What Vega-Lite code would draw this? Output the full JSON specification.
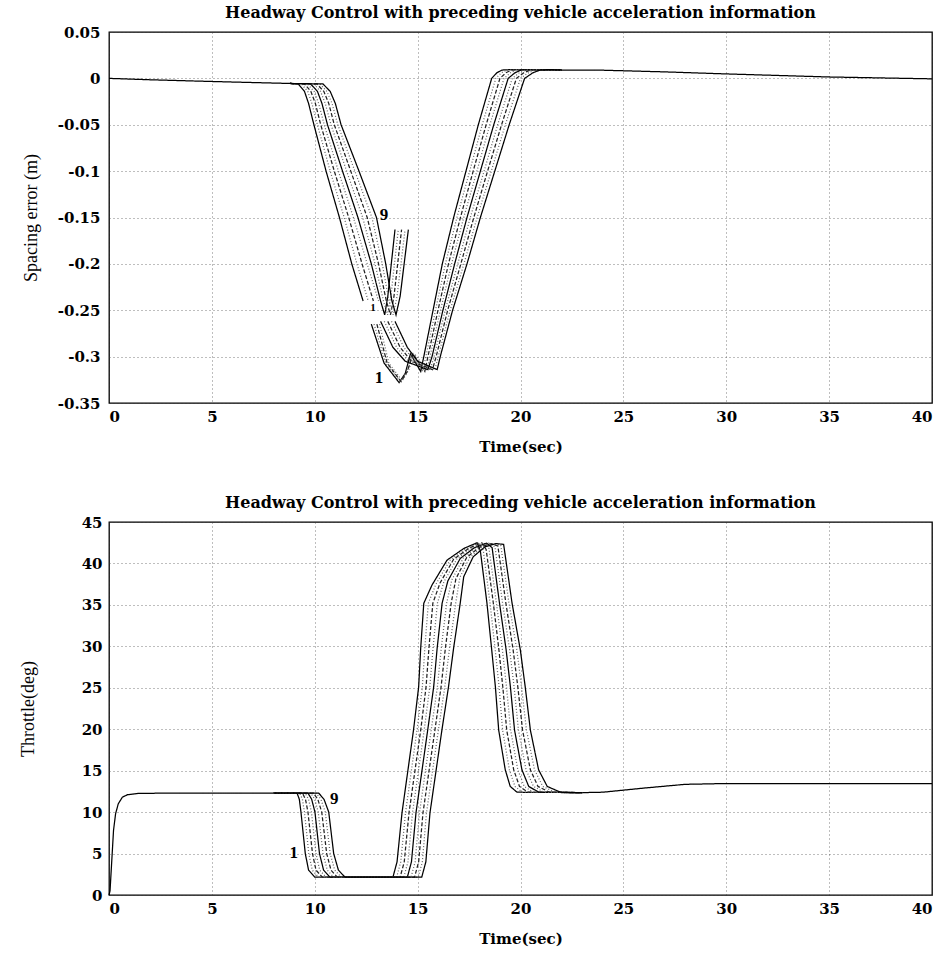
{
"$schema": "https://vega.github.io/schema/vega-lite/v6.json",
"padding": {"left": 18, "top": 4, "right": 6, "bottom": 2},
"background": "white",
"spacing": 39,
"config": {
  "locale": {"number": {"decimal": ".", "thousands": ",", "grouping": [3], "currency": ["$", ""], "minus": "-"}},
  "view": {"stroke": "black", "strokeWidth": 1.3},
  "axis": {"labelFont": "DejaVu Serif", "labelFontWeight": "bold", "labelFontSize": 15, "labelColor": "black", "gridColor": "#333", "gridDash": [1, 3], "gridWidth": 0.8, "gridOpacity": 0.8, "domain": false, "ticks": false, "titleColor": "black"},
  "title": {"font": "DejaVu Serif", "fontWeight": "bold", "fontSize": 16, "color": "black", "offset": 4}
},
"datasets": {
"se": [
{"k":1,"s":"C0","t":0,"y":0},{"k":1,"s":"C0","t":2,"y":-0.0015},{"k":1,"s":"C0","t":4.4,"y":-0.003},{"k":1,"s":"C0","t":7,"y":-0.0045},{"k":1,"s":"C0","t":8.8,"y":-0.0055},
{"k":1,"s":"C1","t":22,"y":0.009},{"k":1,"s":"C1","t":24,"y":0.0088},{"k":1,"s":"C1","t":27,"y":0.007},{"k":1,"s":"C1","t":30,"y":0.0048},{"k":1,"s":"C1","t":35,"y":0.0015},{"k":1,"s":"C1","t":40,"y":-0.0005},

{"k":1,"s":"A","t":8.8,"y":-0.0055},{"k":1,"s":"A","t":9.2,"y":-0.006},{"k":1,"s":"A","t":9.5,"y":-0.014},{"k":1,"s":"A","t":9.7,"y":-0.027},{"k":1,"s":"A","t":9.96,"y":-0.05},{"k":1,"s":"A","t":10.55,"y":-0.1},{"k":1,"s":"A","t":11.2,"y":-0.15},{"k":1,"s":"A","t":11.8,"y":-0.2},{"k":1,"s":"A","t":12.35,"y":-0.24},
{"k":1,"s":"B","t":12.75,"y":-0.265},{"k":1,"s":"B","t":13.37,"y":-0.307},{"k":1,"s":"B","t":14.1,"y":-0.328},{"k":1,"s":"B","t":14.4,"y":-0.318},{"k":1,"s":"B","t":14.65,"y":-0.297},{"k":1,"s":"B","t":15.15,"y":-0.316},{"k":1,"s":"B","t":15.3,"y":-0.3},{"k":1,"s":"B","t":15.75,"y":-0.25},{"k":1,"s":"B","t":16.2,"y":-0.2},{"k":1,"s":"B","t":16.75,"y":-0.15},{"k":1,"s":"B","t":17.35,"y":-0.1},{"k":1,"s":"B","t":17.95,"y":-0.05},{"k":1,"s":"B","t":18.6,"y":0},{"k":1,"s":"B","t":18.85,"y":0.006},{"k":1,"s":"B","t":19.1,"y":0.009},{"k":1,"s":"B","t":19.6,"y":0.0095},{"k":1,"s":"B","t":22,"y":0.009},

{"k":2,"s":"A","t":8.8,"y":-0.0055},{"k":2,"s":"A","t":9.35,"y":-0.006},{"k":2,"s":"A","t":9.66,"y":-0.014},{"k":2,"s":"A","t":9.86,"y":-0.027},{"k":2,"s":"A","t":10.13,"y":-0.05},{"k":2,"s":"A","t":10.75,"y":-0.1},{"k":2,"s":"A","t":11.43,"y":-0.15},{"k":2,"s":"A","t":12.05,"y":-0.2},{"k":2,"s":"A","t":12.6,"y":-0.24},
{"k":2,"s":"B","t":12.88,"y":-0.265},{"k":2,"s":"B","t":13.45,"y":-0.307},{"k":2,"s":"B","t":14.15,"y":-0.327},{"k":2,"s":"B","t":14.45,"y":-0.317},{"k":2,"s":"B","t":14.72,"y":-0.297},{"k":2,"s":"B","t":15.25,"y":-0.316},{"k":2,"s":"B","t":15.4,"y":-0.3},{"k":2,"s":"B","t":15.87,"y":-0.25},{"k":2,"s":"B","t":16.35,"y":-0.2},{"k":2,"s":"B","t":16.91,"y":-0.15},{"k":2,"s":"B","t":17.53,"y":-0.1},{"k":2,"s":"B","t":18.14,"y":-0.05},{"k":2,"s":"B","t":18.8,"y":0},{"k":2,"s":"B","t":19.07,"y":0.006},{"k":2,"s":"B","t":19.33,"y":0.009},{"k":2,"s":"B","t":19.83,"y":0.0095},{"k":2,"s":"B","t":22,"y":0.009},

{"k":3,"s":"A","t":8.8,"y":-0.0055},{"k":3,"s":"A","t":9.5,"y":-0.006},{"k":3,"s":"A","t":9.81,"y":-0.014},{"k":3,"s":"A","t":10.03,"y":-0.027},{"k":3,"s":"A","t":10.29,"y":-0.05},{"k":3,"s":"A","t":10.95,"y":-0.1},{"k":3,"s":"A","t":11.65,"y":-0.15},{"k":3,"s":"A","t":12.3,"y":-0.2},{"k":3,"s":"A","t":12.85,"y":-0.24},
{"k":3,"s":"B","t":13.02,"y":-0.265},{"k":3,"s":"B","t":13.52,"y":-0.307},{"k":3,"s":"B","t":14.2,"y":-0.327},{"k":3,"s":"B","t":14.5,"y":-0.316},{"k":3,"s":"B","t":14.78,"y":-0.297},{"k":3,"s":"B","t":15.35,"y":-0.316},{"k":3,"s":"B","t":15.5,"y":-0.3},{"k":3,"s":"B","t":15.99,"y":-0.25},{"k":3,"s":"B","t":16.5,"y":-0.2},{"k":3,"s":"B","t":17.08,"y":-0.15},{"k":3,"s":"B","t":17.7,"y":-0.1},{"k":3,"s":"B","t":18.33,"y":-0.05},{"k":3,"s":"B","t":19,"y":0},{"k":3,"s":"B","t":19.29,"y":0.006},{"k":3,"s":"B","t":19.56,"y":0.009},{"k":3,"s":"B","t":20.05,"y":0.0095},{"k":3,"s":"B","t":22,"y":0.009},

{"k":4,"s":"A","t":8.8,"y":-0.0055},{"k":4,"s":"A","t":9.65,"y":-0.006},{"k":4,"s":"A","t":9.97,"y":-0.014},{"k":4,"s":"A","t":10.19,"y":-0.027},{"k":4,"s":"A","t":10.46,"y":-0.05},{"k":4,"s":"A","t":11.15,"y":-0.1},{"k":4,"s":"A","t":11.88,"y":-0.15},{"k":4,"s":"A","t":12.55,"y":-0.2},{"k":4,"s":"A","t":13.1,"y":-0.24},
{"k":4,"s":"B","t":13.15,"y":-0.265},{"k":4,"s":"B","t":13.6,"y":-0.307},{"k":4,"s":"B","t":14.25,"y":-0.326},{"k":4,"s":"B","t":14.55,"y":-0.315},{"k":4,"s":"B","t":14.85,"y":-0.297},{"k":4,"s":"B","t":15.45,"y":-0.315},{"k":4,"s":"B","t":15.6,"y":-0.3},{"k":4,"s":"B","t":16.11,"y":-0.25},{"k":4,"s":"B","t":16.65,"y":-0.2},{"k":4,"s":"B","t":17.24,"y":-0.15},{"k":4,"s":"B","t":17.88,"y":-0.1},{"k":4,"s":"B","t":18.51,"y":-0.05},{"k":4,"s":"B","t":19.2,"y":0},{"k":4,"s":"B","t":19.51,"y":0.006},{"k":4,"s":"B","t":19.79,"y":0.009},{"k":4,"s":"B","t":20.28,"y":0.0095},{"k":4,"s":"B","t":22,"y":0.009},

{"k":5,"s":"A","t":8.8,"y":-0.0055},{"k":5,"s":"A","t":9.8,"y":-0.006},{"k":5,"s":"A","t":10.13,"y":-0.014},{"k":5,"s":"A","t":10.35,"y":-0.027},{"k":5,"s":"A","t":10.62,"y":-0.05},{"k":5,"s":"A","t":11.35,"y":-0.1},{"k":5,"s":"A","t":12.1,"y":-0.15},{"k":5,"s":"A","t":12.75,"y":-0.2},{"k":5,"s":"A","t":13.2,"y":-0.24},{"k":5,"s":"A","t":13.4,"y":-0.255},{"k":5,"s":"A","t":13.55,"y":-0.235},{"k":5,"s":"A","t":13.9,"y":-0.163},
{"k":5,"s":"B","t":13.2,"y":-0.262},{"k":5,"s":"B","t":13.8,"y":-0.29},{"k":5,"s":"B","t":14.4,"y":-0.305},{"k":5,"s":"B","t":15.5,"y":-0.314},{"k":5,"s":"B","t":15.7,"y":-0.3},{"k":5,"s":"B","t":16.23,"y":-0.25},{"k":5,"s":"B","t":16.8,"y":-0.2},{"k":5,"s":"B","t":17.4,"y":-0.15},{"k":5,"s":"B","t":18.05,"y":-0.1},{"k":5,"s":"B","t":18.7,"y":-0.05},{"k":5,"s":"B","t":19.4,"y":0},{"k":5,"s":"B","t":19.73,"y":0.006},{"k":5,"s":"B","t":20.03,"y":0.009},{"k":5,"s":"B","t":20.5,"y":0.0095},{"k":5,"s":"B","t":22,"y":0.009},

{"k":6,"s":"A","t":8.8,"y":-0.0055},{"k":6,"s":"A","t":9.95,"y":-0.006},{"k":6,"s":"A","t":10.28,"y":-0.014},{"k":6,"s":"A","t":10.51,"y":-0.027},{"k":6,"s":"A","t":10.79,"y":-0.05},{"k":6,"s":"A","t":11.55,"y":-0.1},{"k":6,"s":"A","t":12.33,"y":-0.15},{"k":6,"s":"A","t":12.93,"y":-0.2},{"k":6,"s":"A","t":13.34,"y":-0.24},{"k":6,"s":"A","t":13.54,"y":-0.255},{"k":6,"s":"A","t":13.7,"y":-0.235},{"k":6,"s":"A","t":14.06,"y":-0.163},
{"k":6,"s":"B","t":13.38,"y":-0.262},{"k":6,"s":"B","t":13.98,"y":-0.29},{"k":6,"s":"B","t":14.55,"y":-0.305},{"k":6,"s":"B","t":15.61,"y":-0.314},{"k":6,"s":"B","t":15.8,"y":-0.3},{"k":6,"s":"B","t":16.34,"y":-0.25},{"k":6,"s":"B","t":16.95,"y":-0.2},{"k":6,"s":"B","t":17.56,"y":-0.15},{"k":6,"s":"B","t":18.23,"y":-0.1},{"k":6,"s":"B","t":18.89,"y":-0.05},{"k":6,"s":"B","t":19.6,"y":0},{"k":6,"s":"B","t":19.94,"y":0.006},{"k":6,"s":"B","t":20.26,"y":0.009},{"k":6,"s":"B","t":20.73,"y":0.0095},{"k":6,"s":"B","t":22,"y":0.009},

{"k":7,"s":"A","t":8.8,"y":-0.0055},{"k":7,"s":"A","t":10.1,"y":-0.006},{"k":7,"s":"A","t":10.44,"y":-0.014},{"k":7,"s":"A","t":10.68,"y":-0.027},{"k":7,"s":"A","t":10.95,"y":-0.05},{"k":7,"s":"A","t":11.75,"y":-0.1},{"k":7,"s":"A","t":12.55,"y":-0.15},{"k":7,"s":"A","t":13.1,"y":-0.2},{"k":7,"s":"A","t":13.48,"y":-0.24},{"k":7,"s":"A","t":13.68,"y":-0.255},{"k":7,"s":"A","t":13.85,"y":-0.235},{"k":7,"s":"A","t":14.22,"y":-0.163},
{"k":7,"s":"B","t":13.55,"y":-0.262},{"k":7,"s":"B","t":14.15,"y":-0.29},{"k":7,"s":"B","t":14.7,"y":-0.305},{"k":7,"s":"B","t":15.72,"y":-0.314},{"k":7,"s":"B","t":15.9,"y":-0.3},{"k":7,"s":"B","t":16.46,"y":-0.25},{"k":7,"s":"B","t":17.1,"y":-0.2},{"k":7,"s":"B","t":17.73,"y":-0.15},{"k":7,"s":"B","t":18.4,"y":-0.1},{"k":7,"s":"B","t":19.08,"y":-0.05},{"k":7,"s":"B","t":19.8,"y":0},{"k":7,"s":"B","t":20.16,"y":0.006},{"k":7,"s":"B","t":20.49,"y":0.009},{"k":7,"s":"B","t":20.95,"y":0.0095},{"k":7,"s":"B","t":22,"y":0.009},

{"k":8,"s":"A","t":8.8,"y":-0.0055},{"k":8,"s":"A","t":10.25,"y":-0.006},{"k":8,"s":"A","t":10.59,"y":-0.014},{"k":8,"s":"A","t":10.84,"y":-0.027},{"k":8,"s":"A","t":11.12,"y":-0.05},{"k":8,"s":"A","t":11.95,"y":-0.1},{"k":8,"s":"A","t":12.78,"y":-0.15},{"k":8,"s":"A","t":13.28,"y":-0.2},{"k":8,"s":"A","t":13.61,"y":-0.24},{"k":8,"s":"A","t":13.81,"y":-0.255},{"k":8,"s":"A","t":14,"y":-0.235},{"k":8,"s":"A","t":14.39,"y":-0.163},
{"k":8,"s":"B","t":13.73,"y":-0.262},{"k":8,"s":"B","t":14.33,"y":-0.29},{"k":8,"s":"B","t":14.85,"y":-0.305},{"k":8,"s":"B","t":15.84,"y":-0.314},{"k":8,"s":"B","t":16,"y":-0.3},{"k":8,"s":"B","t":16.58,"y":-0.25},{"k":8,"s":"B","t":17.25,"y":-0.2},{"k":8,"s":"B","t":17.89,"y":-0.15},{"k":8,"s":"B","t":18.58,"y":-0.1},{"k":8,"s":"B","t":19.26,"y":-0.05},{"k":8,"s":"B","t":20,"y":0},{"k":8,"s":"B","t":20.38,"y":0.006},{"k":8,"s":"B","t":20.72,"y":0.009},{"k":8,"s":"B","t":21.18,"y":0.0095},{"k":8,"s":"B","t":22,"y":0.009},

{"k":9,"s":"A","t":8.8,"y":-0.0055},{"k":9,"s":"A","t":10.4,"y":-0.006},{"k":9,"s":"A","t":10.75,"y":-0.014},{"k":9,"s":"A","t":11,"y":-0.027},{"k":9,"s":"A","t":11.28,"y":-0.05},{"k":9,"s":"A","t":12.15,"y":-0.1},{"k":9,"s":"A","t":13,"y":-0.15},{"k":9,"s":"A","t":13.45,"y":-0.2},{"k":9,"s":"A","t":13.75,"y":-0.24},{"k":9,"s":"A","t":13.95,"y":-0.255},{"k":9,"s":"A","t":14.15,"y":-0.235},{"k":9,"s":"A","t":14.55,"y":-0.163},
{"k":9,"s":"B","t":13.9,"y":-0.262},{"k":9,"s":"B","t":14.5,"y":-0.29},{"k":9,"s":"B","t":15,"y":-0.305},{"k":9,"s":"B","t":15.95,"y":-0.314},{"k":9,"s":"B","t":16.1,"y":-0.3},{"k":9,"s":"B","t":16.7,"y":-0.25},{"k":9,"s":"B","t":17.4,"y":-0.2},{"k":9,"s":"B","t":18.05,"y":-0.15},{"k":9,"s":"B","t":18.75,"y":-0.1},{"k":9,"s":"B","t":19.45,"y":-0.05},{"k":9,"s":"B","t":20.2,"y":0},{"k":9,"s":"B","t":20.6,"y":0.006},{"k":9,"s":"B","t":20.95,"y":0.009},{"k":9,"s":"B","t":21.4,"y":0.0095},{"k":9,"s":"B","t":22,"y":0.009}
],
"th": [
{"k":1,"s":"C0","t":0,"y":0},{"k":1,"s":"C0","t":0.05,"y":0.5},{"k":1,"s":"C0","t":0.22,"y":7.8},{"k":1,"s":"C0","t":0.32,"y":9.8},{"k":1,"s":"C0","t":0.45,"y":11},{"k":1,"s":"C0","t":0.65,"y":11.8},{"k":1,"s":"C0","t":0.9,"y":12.1},{"k":1,"s":"C0","t":1.4,"y":12.25},{"k":1,"s":"C0","t":3,"y":12.3},{"k":1,"s":"C0","t":8,"y":12.3},
{"k":1,"s":"C1","t":23,"y":12.35},{"k":1,"s":"C1","t":24,"y":12.4},{"k":1,"s":"C1","t":26,"y":12.9},{"k":1,"s":"C1","t":28,"y":13.35},{"k":1,"s":"C1","t":30,"y":13.45},{"k":1,"s":"C1","t":40,"y":13.45},

{"k":1,"s":"A","t":8,"y":12.3},{"k":1,"s":"A","t":9.14,"y":12.3},{"k":1,"s":"A","t":9.25,"y":11.55},{"k":1,"s":"A","t":9.33,"y":10},{"k":1,"s":"A","t":9.54,"y":5},{"k":1,"s":"A","t":9.7,"y":3},{"k":1,"s":"A","t":10,"y":2.15},{"k":1,"s":"A","t":13.8,"y":2.15},{"k":1,"s":"A","t":14,"y":4},{"k":1,"s":"A","t":14.24,"y":9.9},{"k":1,"s":"A","t":14.8,"y":19.9},{"k":1,"s":"A","t":15.05,"y":25.1},{"k":1,"s":"A","t":15.15,"y":29.8},{"k":1,"s":"A","t":15.3,"y":35.2},{"k":1,"s":"A","t":15.7,"y":37.4},{"k":1,"s":"A","t":16.43,"y":40.4},{"k":1,"s":"A","t":17.24,"y":41.8},{"k":1,"s":"A","t":17.89,"y":42.5},{"k":1,"s":"A","t":18.05,"y":41.5},{"k":1,"s":"A","t":18.37,"y":35.2},{"k":1,"s":"A","t":18.6,"y":29.6},{"k":1,"s":"A","t":18.78,"y":25.1},{"k":1,"s":"A","t":18.94,"y":19.9},{"k":1,"s":"A","t":19.26,"y":15.1},{"k":1,"s":"A","t":19.5,"y":13.1},{"k":1,"s":"A","t":19.83,"y":12.4},{"k":1,"s":"A","t":23,"y":12.35},

{"k":2,"s":"A","t":8,"y":12.3},{"k":2,"s":"A","t":9.27,"y":12.3},{"k":2,"s":"A","t":9.4,"y":11.55},{"k":2,"s":"A","t":9.5,"y":10},{"k":2,"s":"A","t":9.71,"y":5},{"k":2,"s":"A","t":9.88,"y":3},{"k":2,"s":"A","t":10.18,"y":2.15},{"k":2,"s":"A","t":13.98,"y":2.15},{"k":2,"s":"A","t":14.18,"y":4},{"k":2,"s":"A","t":14.41,"y":9.9},{"k":2,"s":"A","t":14.97,"y":19.9},{"k":2,"s":"A","t":15.23,"y":25.1},{"k":2,"s":"A","t":15.35,"y":29.8},{"k":2,"s":"A","t":15.52,"y":35.2},{"k":2,"s":"A","t":15.89,"y":37.5},{"k":2,"s":"A","t":16.59,"y":40.45},{"k":2,"s":"A","t":17.37,"y":41.8},{"k":2,"s":"A","t":18,"y":42.5},{"k":2,"s":"A","t":18.19,"y":41.6},{"k":2,"s":"A","t":18.52,"y":35.2},{"k":2,"s":"A","t":18.77,"y":29.6},{"k":2,"s":"A","t":18.96,"y":25.1},{"k":2,"s":"A","t":19.13,"y":19.9},{"k":2,"s":"A","t":19.46,"y":15.1},{"k":2,"s":"A","t":19.73,"y":13.1},{"k":2,"s":"A","t":20.09,"y":12.4},{"k":2,"s":"A","t":23,"y":12.35},

{"k":3,"s":"A","t":8,"y":12.3},{"k":3,"s":"A","t":9.4,"y":12.3},{"k":3,"s":"A","t":9.55,"y":11.55},{"k":3,"s":"A","t":9.67,"y":10},{"k":3,"s":"A","t":9.89,"y":5},{"k":3,"s":"A","t":10.06,"y":3},{"k":3,"s":"A","t":10.37,"y":2.15},{"k":3,"s":"A","t":14.15,"y":2.15},{"k":3,"s":"A","t":14.35,"y":4},{"k":3,"s":"A","t":14.58,"y":9.9},{"k":3,"s":"A","t":15.15,"y":19.9},{"k":3,"s":"A","t":15.41,"y":25.1},{"k":3,"s":"A","t":15.55,"y":29.8},{"k":3,"s":"A","t":15.74,"y":35.2},{"k":3,"s":"A","t":16.09,"y":37.65},{"k":3,"s":"A","t":16.75,"y":40.5},{"k":3,"s":"A","t":17.5,"y":41.85},{"k":3,"s":"A","t":18.12,"y":42.5},{"k":3,"s":"A","t":18.33,"y":41.7},{"k":3,"s":"A","t":18.68,"y":35.2},{"k":3,"s":"A","t":18.95,"y":29.6},{"k":3,"s":"A","t":19.14,"y":25.1},{"k":3,"s":"A","t":19.33,"y":19.9},{"k":3,"s":"A","t":19.67,"y":15.1},{"k":3,"s":"A","t":19.95,"y":13.1},{"k":3,"s":"A","t":20.36,"y":12.4},{"k":3,"s":"A","t":23,"y":12.35},

{"k":4,"s":"A","t":8,"y":12.3},{"k":4,"s":"A","t":9.53,"y":12.3},{"k":4,"s":"A","t":9.7,"y":11.55},{"k":4,"s":"A","t":9.84,"y":10},{"k":4,"s":"A","t":10.06,"y":5},{"k":4,"s":"A","t":10.24,"y":3},{"k":4,"s":"A","t":10.55,"y":2.15},{"k":4,"s":"A","t":14.33,"y":2.15},{"k":4,"s":"A","t":14.53,"y":4},{"k":4,"s":"A","t":14.75,"y":9.9},{"k":4,"s":"A","t":15.32,"y":19.9},{"k":4,"s":"A","t":15.59,"y":25.1},{"k":4,"s":"A","t":15.75,"y":29.8},{"k":4,"s":"A","t":15.96,"y":35.2},{"k":4,"s":"A","t":16.28,"y":37.8},{"k":4,"s":"A","t":16.91,"y":40.55},{"k":4,"s":"A","t":17.63,"y":41.9},{"k":4,"s":"A","t":18.23,"y":42.45},{"k":4,"s":"A","t":18.47,"y":41.8},{"k":4,"s":"A","t":18.83,"y":35.2},{"k":4,"s":"A","t":19.12,"y":29.6},{"k":4,"s":"A","t":19.32,"y":25.1},{"k":4,"s":"A","t":19.52,"y":19.9},{"k":4,"s":"A","t":19.87,"y":15.1},{"k":4,"s":"A","t":20.18,"y":13.1},{"k":4,"s":"A","t":20.62,"y":12.4},{"k":4,"s":"A","t":23,"y":12.35},

{"k":5,"s":"A","t":8,"y":12.3},{"k":5,"s":"A","t":9.67,"y":12.3},{"k":5,"s":"A","t":9.85,"y":11.55},{"k":5,"s":"A","t":10.01,"y":10},{"k":5,"s":"A","t":10.23,"y":5},{"k":5,"s":"A","t":10.43,"y":3},{"k":5,"s":"A","t":10.74,"y":2.15},{"k":5,"s":"A","t":14.5,"y":2.15},{"k":5,"s":"A","t":14.7,"y":4},{"k":5,"s":"A","t":14.92,"y":9.9},{"k":5,"s":"A","t":15.49,"y":19.9},{"k":5,"s":"A","t":15.78,"y":25.1},{"k":5,"s":"A","t":15.95,"y":29.8},{"k":5,"s":"A","t":16.19,"y":35.2},{"k":5,"s":"A","t":16.47,"y":37.9},{"k":5,"s":"A","t":17.07,"y":40.6},{"k":5,"s":"A","t":17.76,"y":41.9},{"k":5,"s":"A","t":18.35,"y":42.45},{"k":5,"s":"A","t":18.62,"y":41.9},{"k":5,"s":"A","t":18.98,"y":35.2},{"k":5,"s":"A","t":19.3,"y":29.6},{"k":5,"s":"A","t":19.51,"y":25.1},{"k":5,"s":"A","t":19.71,"y":19.9},{"k":5,"s":"A","t":20.07,"y":15.1},{"k":5,"s":"A","t":20.4,"y":13.1},{"k":5,"s":"A","t":20.89,"y":12.4},{"k":5,"s":"A","t":23,"y":12.35},

{"k":6,"s":"A","t":8,"y":12.3},{"k":6,"s":"A","t":9.8,"y":12.3},{"k":6,"s":"A","t":10,"y":11.55},{"k":6,"s":"A","t":10.17,"y":10},{"k":6,"s":"A","t":10.4,"y":5},{"k":6,"s":"A","t":10.61,"y":3},{"k":6,"s":"A","t":10.92,"y":2.15},{"k":6,"s":"A","t":14.68,"y":2.15},{"k":6,"s":"A","t":14.88,"y":4},{"k":6,"s":"A","t":15.09,"y":9.9},{"k":6,"s":"A","t":15.66,"y":19.9},{"k":6,"s":"A","t":15.96,"y":25.1},{"k":6,"s":"A","t":16.15,"y":29.8},{"k":6,"s":"A","t":16.41,"y":35.2},{"k":6,"s":"A","t":16.66,"y":38},{"k":6,"s":"A","t":17.22,"y":40.65},{"k":6,"s":"A","t":17.88,"y":41.9},{"k":6,"s":"A","t":18.46,"y":42.45},{"k":6,"s":"A","t":18.76,"y":42},{"k":6,"s":"A","t":19.13,"y":35.2},{"k":6,"s":"A","t":19.47,"y":29.6},{"k":6,"s":"A","t":19.69,"y":25.1},{"k":6,"s":"A","t":19.9,"y":19.9},{"k":6,"s":"A","t":20.27,"y":15.1},{"k":6,"s":"A","t":20.63,"y":13.1},{"k":6,"s":"A","t":21.15,"y":12.4},{"k":6,"s":"A","t":23,"y":12.35},

{"k":7,"s":"A","t":8,"y":12.3},{"k":7,"s":"A","t":9.93,"y":12.3},{"k":7,"s":"A","t":10.15,"y":11.55},{"k":7,"s":"A","t":10.34,"y":10},{"k":7,"s":"A","t":10.58,"y":5},{"k":7,"s":"A","t":10.79,"y":3},{"k":7,"s":"A","t":11.1,"y":2.15},{"k":7,"s":"A","t":14.85,"y":2.15},{"k":7,"s":"A","t":15.05,"y":4},{"k":7,"s":"A","t":15.26,"y":9.9},{"k":7,"s":"A","t":15.84,"y":19.9},{"k":7,"s":"A","t":16.14,"y":25.1},{"k":7,"s":"A","t":16.35,"y":29.8},{"k":7,"s":"A","t":16.63,"y":35.2},{"k":7,"s":"A","t":16.86,"y":38.15},{"k":7,"s":"A","t":17.38,"y":40.7},{"k":7,"s":"A","t":18.01,"y":41.95},{"k":7,"s":"A","t":18.57,"y":42.4},{"k":7,"s":"A","t":18.9,"y":42.1},{"k":7,"s":"A","t":19.29,"y":35.2},{"k":7,"s":"A","t":19.64,"y":29.6},{"k":7,"s":"A","t":19.87,"y":25.1},{"k":7,"s":"A","t":20.1,"y":19.9},{"k":7,"s":"A","t":20.48,"y":15.1},{"k":7,"s":"A","t":20.85,"y":13.1},{"k":7,"s":"A","t":21.41,"y":12.4},{"k":7,"s":"A","t":23,"y":12.35},

{"k":8,"s":"A","t":8,"y":12.3},{"k":8,"s":"A","t":10.06,"y":12.3},{"k":8,"s":"A","t":10.3,"y":11.55},{"k":8,"s":"A","t":10.51,"y":10},{"k":8,"s":"A","t":10.75,"y":5},{"k":8,"s":"A","t":10.97,"y":3},{"k":8,"s":"A","t":11.29,"y":2.15},{"k":8,"s":"A","t":15.03,"y":2.15},{"k":8,"s":"A","t":15.23,"y":4},{"k":8,"s":"A","t":15.43,"y":9.9},{"k":8,"s":"A","t":16.01,"y":19.9},{"k":8,"s":"A","t":16.32,"y":25.1},{"k":8,"s":"A","t":16.55,"y":29.8},{"k":8,"s":"A","t":16.85,"y":35.2},{"k":8,"s":"A","t":17.05,"y":38.3},{"k":8,"s":"A","t":17.54,"y":40.75},{"k":8,"s":"A","t":18.14,"y":42},{"k":8,"s":"A","t":18.69,"y":42.4},{"k":8,"s":"A","t":19.04,"y":42.2},{"k":8,"s":"A","t":19.44,"y":35.2},{"k":8,"s":"A","t":19.82,"y":29.6},{"k":8,"s":"A","t":20.05,"y":25.1},{"k":8,"s":"A","t":20.29,"y":19.9},{"k":8,"s":"A","t":20.68,"y":15.1},{"k":8,"s":"A","t":21.08,"y":13.1},{"k":8,"s":"A","t":21.68,"y":12.4},{"k":8,"s":"A","t":23,"y":12.35},

{"k":9,"s":"A","t":8,"y":12.3},{"k":9,"s":"A","t":10.19,"y":12.3},{"k":9,"s":"A","t":10.45,"y":11.55},{"k":9,"s":"A","t":10.68,"y":10},{"k":9,"s":"A","t":10.92,"y":5},{"k":9,"s":"A","t":11.15,"y":3},{"k":9,"s":"A","t":11.47,"y":2.15},{"k":9,"s":"A","t":15.2,"y":2.15},{"k":9,"s":"A","t":15.4,"y":4},{"k":9,"s":"A","t":15.6,"y":9.9},{"k":9,"s":"A","t":16.18,"y":19.9},{"k":9,"s":"A","t":16.5,"y":25.1},{"k":9,"s":"A","t":16.75,"y":29.8},{"k":9,"s":"A","t":17.07,"y":35.2},{"k":9,"s":"A","t":17.24,"y":38.4},{"k":9,"s":"A","t":17.7,"y":40.8},{"k":9,"s":"A","t":18.27,"y":42},{"k":9,"s":"A","t":18.8,"y":42.4},{"k":9,"s":"A","t":19.18,"y":42.3},{"k":9,"s":"A","t":19.59,"y":35.2},{"k":9,"s":"A","t":19.99,"y":29.6},{"k":9,"s":"A","t":20.23,"y":25.1},{"k":9,"s":"A","t":20.48,"y":19.9},{"k":9,"s":"A","t":20.88,"y":15.1},{"k":9,"s":"A","t":21.3,"y":13.1},{"k":9,"s":"A","t":21.94,"y":12.4},{"k":9,"s":"A","t":23,"y":12.35}
],
"lab1": [{"t":13.37,"y":-0.147,"lab":"9","g":"b"},{"t":13.12,"y":-0.323,"lab":"1","g":"b"},{"t":12.83,"y":-0.248,"lab":"1","g":"s"}],
"lab2": [{"t":10.95,"y":11.6,"lab":"9","g":"b"},{"t":8.98,"y":5.03,"lab":"1","g":"b"}]
},
"vconcat": [
{
 "width": 823, "height": 371,
 "title": "Headway Control with preceding vehicle acceleration information",
 "layer": [
  {"data": {"name": "se"},
   "mark": {"type": "line", "strokeWidth": 1.25},
   "encoding": {
    "x": {"field": "t", "type": "quantitative", "scale": {"domain": [0, 40], "nice": false},
          "axis": {"values": [0,5,10,15,20,25,30,35,40], "title": "Time(sec)", "titleFont": "DejaVu Serif", "titleFontWeight": "bold", "titleFontSize": 15, "labelPadding": 6, "titlePadding": 15}},
    "y": {"field": "y", "type": "quantitative", "scale": {"domain": [-0.35, 0.05], "nice": false, "zero": false},
          "axis": {"values": [-0.35,-0.3,-0.25,-0.2,-0.15,-0.1,-0.05,0,0.05], "format": ".2~f", "title": "Spacing error (m)", "titleFont": "Liberation Serif", "titleFontWeight": "normal", "titleFontSize": 18, "labelPadding": 9, "titlePadding": 17}},
    "color": {"field": "k", "type": "nominal", "legend": null, "scale": {"domain": [1,2,3,4,5,6,7,8,9], "range": ["#000000","#666666","#222222","#666666","#000000","#666666","#222222","#666666","#000000"]}},
    "strokeDash": {"field": "k", "type": "nominal", "legend": null, "scale": {"domain": [1,2,3,4,5,6,7,8,9], "range": [[1,0],[1,2],[4,2],[1,2],[1,0],[1,2],[4,2],[1,2],[1,0]]}},
    "detail": {"field": "s"}
   }},
  {"data": {"name": "lab1"},
   "mark": {"type": "text", "font": "Liberation Serif", "fontWeight": "bold", "baseline": "middle", "color": "black"},
   "encoding": {
    "x": {"field": "t", "type": "quantitative"},
    "y": {"field": "y", "type": "quantitative"},
    "text": {"field": "lab"},
    "size": {"field": "g", "type": "nominal", "legend": null, "scale": {"domain": ["b","s"], "range": [17, 11]}}
   }}
 ]
},
{
 "width": 823, "height": 373,
 "title": "Headway Control with preceding vehicle acceleration information",
 "layer": [
  {"data": {"name": "th"},
   "mark": {"type": "line", "strokeWidth": 1.25},
   "encoding": {
    "x": {"field": "t", "type": "quantitative", "scale": {"domain": [0, 40], "nice": false},
          "axis": {"values": [0,5,10,15,20,25,30,35,40], "title": "Time(sec)", "titleFont": "DejaVu Serif", "titleFontWeight": "bold", "titleFontSize": 15, "labelPadding": 6, "titlePadding": 15}},
    "y": {"field": "y", "type": "quantitative", "scale": {"domain": [0, 45], "nice": false},
          "axis": {"values": [0,5,10,15,20,25,30,35,40,45], "title": "Throttle(deg)", "titleFont": "Liberation Serif", "titleFontWeight": "normal", "titleFontSize": 18, "labelPadding": 7, "titlePadding": 44}},
    "color": {"field": "k", "type": "nominal", "legend": null, "scale": {"domain": [1,2,3,4,5,6,7,8,9], "range": ["#000000","#666666","#222222","#666666","#000000","#666666","#222222","#666666","#000000"]}},
    "strokeDash": {"field": "k", "type": "nominal", "legend": null, "scale": {"domain": [1,2,3,4,5,6,7,8,9], "range": [[1,0],[1,2],[4,2],[1,2],[1,0],[1,2],[4,2],[1,2],[1,0]]}},
    "detail": {"field": "s"}
   }},
  {"mark": {"type": "rule", "strokeWidth": 3, "color": "black"},
   "encoding": {"x": {"datum": 40}}},
  {"data": {"name": "lab2"},
   "mark": {"type": "text", "font": "Liberation Serif", "fontWeight": "bold", "baseline": "middle", "color": "black"},
   "encoding": {
    "x": {"field": "t", "type": "quantitative"},
    "y": {"field": "y", "type": "quantitative"},
    "text": {"field": "lab"},
    "size": {"field": "g", "type": "nominal", "legend": null, "scale": {"domain": ["b","s"], "range": [17, 11]}}
   }}
 ]
}
]
}
